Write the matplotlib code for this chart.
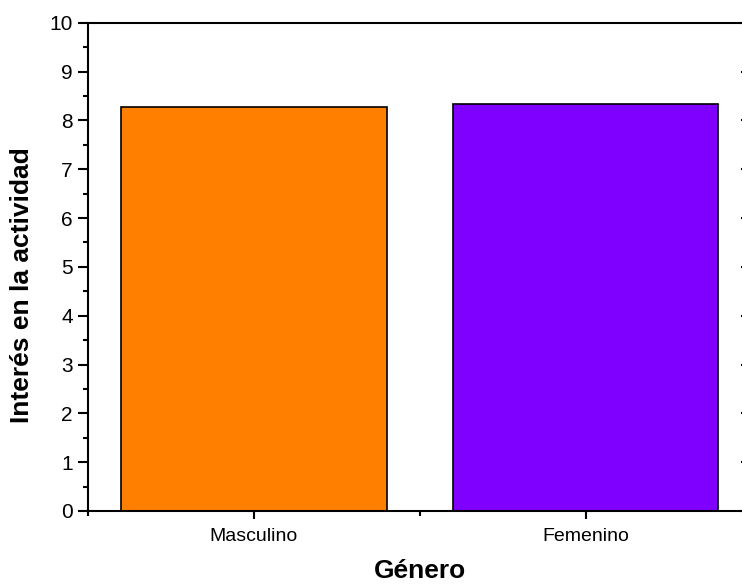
import matplotlib
matplotlib.use("Agg")
import matplotlib.pyplot as plt
from matplotlib.ticker import FixedLocator, MultipleLocator

categories = ["Masculino", "Femenino"]
interes = [8.28, 8.33]
colores = ["#FF8000", "#8000FF"]

plt.rcParams["font.family"] = ["Liberation Sans", "DejaVu Sans"]

fig = plt.figure(figsize=(7.42, 5.85), dpi=100)
ax = fig.add_axes([0.1186, 0.1265, 0.894, 0.8347])

pos = [1, 2]
ax.bar(pos, interes, width=0.8, color=colores, edgecolor="black", linewidth=1.2)

ax.set_xlim(0.5, 2.5)
ax.set_ylim(0, 10)
ax.set_xticks(pos)
ax.set_xticklabels(categories, fontsize=14)
ax.xaxis.set_minor_locator(FixedLocator([0.5, 1.5, 2.5]))
ax.yaxis.set_major_locator(MultipleLocator(1))
ax.yaxis.set_minor_locator(MultipleLocator(0.5))

ax.tick_params(axis="y", which="major", direction="out", length=7, width=1.5,
               labelsize=15, pad=4, right=True)
ax.tick_params(axis="y", which="minor", direction="out", length=3.5, width=1.5, right=True)
ax.tick_params(axis="x", which="major", direction="out", length=6, width=1.5, pad=6)
ax.tick_params(axis="x", which="minor", direction="out", length=3.5, width=1.5)
# right-side ticks point inward
for t in ax.yaxis.get_major_ticks() + ax.yaxis.get_minor_ticks():
    t.tick2line.set_marker(0)

for s in ax.spines.values():
    s.set_linewidth(1.5)

ax.set_ylabel("Interés en la actividad", fontsize=19, fontweight="bold")
ax.yaxis.set_label_coords(-0.081, 0.463)
ax.set_xlabel("Género", fontsize=19, fontweight="bold", labelpad=10)

fig.savefig("out.png", dpi=100)
